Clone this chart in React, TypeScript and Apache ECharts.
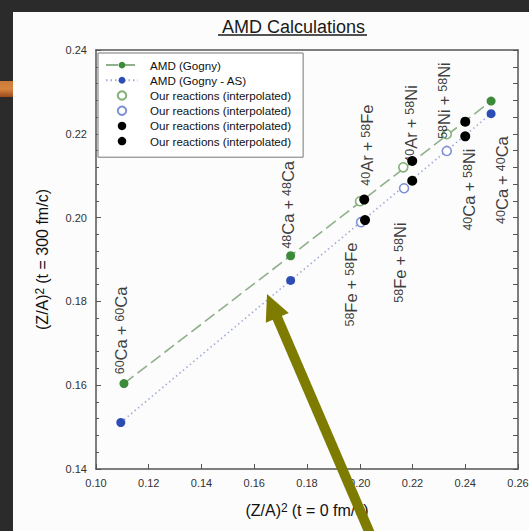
import React, { useEffect, useRef } from "react";
import * as echarts from "echarts";

const FONT = "'Liberation Sans', Arial, Helvetica, sans-serif";

const seriesNames = [
  "AMD (Gogny)",
  "AMD (Gogny - AS)",
  "Our reactions (interpolated)",
  "Our reactions (interpolated) ",
  "Our reactions (interpolated)  ",
  "Our reactions (interpolated)   ",
];

// AMD (Gogny)
const gognyX = [0.1106, 0.1738, 0.2498];
const gognyY = [0.1604, 0.1909, 0.2278];
// AMD (Gogny - AS)
const gognyAsX = [0.1094, 0.1738, 0.2498];
const gognyAsY = [0.1511, 0.185, 0.2248];
// interpolated on Gogny (open green)
const interpGreenX = [0.2001, 0.2165, 0.233];
const interpGreenY = [0.2039, 0.212, 0.2199];
// interpolated on Gogny - AS (open blue)
const interpBlueX = [0.2005, 0.2168, 0.233];
const interpBlueY = [0.1989, 0.207, 0.2159];
// interpolated (black, upper)
const blackUpperX = [0.2017, 0.2199, 0.24];
const blackUpperY = [0.2043, 0.2135, 0.2229];
// interpolated (black, lower)
const blackLowerX = [0.202, 0.2199, 0.24];
const blackLowerY = [0.1994, 0.2088, 0.2194];

// reaction labels
const labelMassA = ["60", "48", "58", "58", "40", "40", "58", "40", "40"];
const labelElemA = ["Ca", "Ca", "Fe", "Fe", "Ar", "Ar", "Ni", "Ca", "Ca"];
const labelMassB = ["60", "48", "58", "58", "58", "58", "58", "58", "40"];
const labelElemB = ["Ca", "Ca", "Fe", "Ni", "Fe", "Ni", "Ni", "Ni", "Ca"];
const labelX = [0.1098, 0.1728, 0.197, 0.2153, 0.2031, 0.2198, 0.2323, 0.2418, 0.254];
const labelY = [0.1626, 0.1926, 0.174, 0.1797, 0.2076, 0.2131, 0.2188, 0.1969, 0.1985];

// axes
const xMin = 0.1;
const xMax = 0.26;
const xStep = 0.02;
const yMin = 0.14;
const yMax = 0.24;
const yStep = 0.02;
const yMinorStep = 0.004;

const zip = (xs: number[], ys: number[]) => xs.map((x, i) => [x, ys[i]]);

function arrowGraphics() {
  const tip = [267, 294];
  const d = [0.395, 0.919];
  const p = [0.919, -0.395];
  const headLen = 26;
  const headHalf = 12.5;
  const shaftHalf = 5;
  const tailLen = 270;
  const base = [tip[0] + d[0] * headLen, tip[1] + d[1] * headLen];
  const tail = [tip[0] + d[0] * tailLen, tip[1] + d[1] * tailLen];
  const color = "#7e7c00";
  return [
    {
      type: "polygon",
      z: 200,
      shape: {
        points: [
          [base[0] + p[0] * shaftHalf - d[0] * 2, base[1] + p[1] * shaftHalf - d[1] * 2],
          [tail[0] + p[0] * shaftHalf, tail[1] + p[1] * shaftHalf],
          [tail[0] - p[0] * shaftHalf, tail[1] - p[1] * shaftHalf],
          [base[0] - p[0] * shaftHalf - d[0] * 2, base[1] - p[1] * shaftHalf - d[1] * 2],
        ],
      },
      style: { fill: color },
    },
    {
      type: "polygon",
      z: 200,
      shape: {
        points: [
          tip,
          [base[0] + p[0] * headHalf, base[1] + p[1] * headHalf],
          [base[0] - p[0] * headHalf, base[1] - p[1] * headHalf],
        ],
      },
      style: { fill: color },
    },
  ];
}

export default function App() {
  const ref = useRef<HTMLDivElement>(null);

  useEffect(() => {
    if (!ref.current) return;
    const chart = echarts.init(ref.current, null, { renderer: "svg" });

    const labelRich = {
      s: { fontSize: 12.5, fontFamily: FONT, color: "#0a0a0a", verticalAlign: "top", lineHeight: 12 },
      m: { fontSize: 16.5, fontFamily: FONT, color: "#0a0a0a", verticalAlign: "bottom", lineHeight: 16 },
      p: { fontSize: 16.5, fontFamily: FONT, color: "#0a0a0a", verticalAlign: "bottom", lineHeight: 16, padding: [0, 4, 0, 4] },
    };

    const axisLineStyle = { color: "#555", width: 1.5 };
    const tickStyle = { color: "#555", width: 1 };
    const fmt = (v: number) => v.toFixed(2);

    const option: any = {
      animation: false,
      backgroundColor: "#2b2b2b",
      title: {
        text: "AMD Calculations",
        left: 217,
        top: 13,
        textStyle: { fontFamily: FONT, fontSize: 18, fontWeight: "normal", color: "#1a1a1a" },
      },
      graphic: [
        {
          type: "rect",
          z: -100,
          shape: { x: 13, y: 12, width: 516, height: 519 },
          style: { fill: "#fcfcfc" },
        },
        {
          type: "rect",
          z: -100,
          shape: { x: 0, y: 81, width: 13, height: 16 },
          style: {
            fill: new echarts.graphic.LinearGradient(0, 0, 0, 1, [
              { offset: 0, color: "#c97a3c" },
              { offset: 0.5, color: "#d8843e" },
              { offset: 1, color: "#9a4a1c" },
            ]),
          },
        },
        {
          type: "line",
          shape: { x1: 218, y1: 35, x2: 367, y2: 35 },
          style: { stroke: "#1a1a1a", lineWidth: 1.3 },
        },
        ...arrowGraphics(),
      ],
      legend: {
        data: seriesNames,
        orient: "vertical",
        left: 98,
        top: 53,
        itemWidth: 32,
        itemHeight: 8.5,
        itemGap: 3,
        padding: [6, 12, 10, 7],
        borderColor: "#777",
        borderWidth: 1,
        backgroundColor: "#fff",
        selectedMode: false,
        formatter: (n: string) => n.trim(),
        textStyle: { fontFamily: FONT, fontSize: 11.6, color: "#111", lineHeight: 12.2, padding: [0, 0, 0, 7] },
      },
      grid: { left: 96, right: 11, top: 50, bottom: 62, containLabel: false, outerBoundsMode: "none" },
      xAxis: [
        {
          type: "value",
          position: "bottom",
          min: xMin,
          max: xMax,
          interval: xStep,
          axisLine: { show: true, onZero: false, lineStyle: axisLineStyle },
          axisTick: { show: true, inside: true, length: 5, lineStyle: tickStyle },
          splitLine: { show: false },
          axisLabel: { formatter: fmt, fontFamily: FONT, fontSize: 11, color: "#333", margin: 8 },
          name: "{b|(Z/A)}{s|2}{c|(t = 0 fm/c)}",
          nameLocation: "middle",
          nameGap: 33,
          nameTextStyle: {
            lineHeight: 22,
            rich: {
              b: { fontSize: 16, fontFamily: FONT, color: "#111", verticalAlign: "bottom", lineHeight: 16 },
              s: { fontSize: 12, fontFamily: FONT, color: "#111", verticalAlign: "top", lineHeight: 12 },
              c: { fontSize: 16, fontFamily: FONT, color: "#111", verticalAlign: "bottom", lineHeight: 16, padding: [0, 0, 0, 4] },
            },
          },
        },
        {
          type: "value",
          position: "top",
          min: xMin,
          max: xMax,
          interval: xStep,
          axisLine: { show: true, onZero: false, lineStyle: axisLineStyle },
          axisTick: { show: false },
          axisLabel: { show: false },
          splitLine: { show: false },
        },
      ],
      yAxis: [
        {
          type: "value",
          position: "left",
          min: yMin,
          max: yMax,
          interval: yStep,
          axisLine: { show: true, onZero: false, lineStyle: axisLineStyle },
          axisTick: { show: true, inside: true, length: 5, lineStyle: tickStyle },
          minorTick: { show: true, splitNumber: 5, length: 3, lineStyle: tickStyle },
          splitLine: { show: false },
          axisLabel: { formatter: fmt, fontFamily: FONT, fontSize: 11, color: "#333", margin: 9 },
          name: "{b|(Z/A)}{s|2}{c|(t = 300 fm/c)}",
          nameLocation: "middle",
          nameGap: 46,
          nameTextStyle: {
            lineHeight: 22,
            rich: {
              b: { fontSize: 16, fontFamily: FONT, color: "#111", verticalAlign: "bottom", lineHeight: 16 },
              s: { fontSize: 12, fontFamily: FONT, color: "#111", verticalAlign: "top", lineHeight: 12 },
              c: { fontSize: 16, fontFamily: FONT, color: "#111", verticalAlign: "bottom", lineHeight: 16, padding: [0, 0, 0, 4] },
            },
          },
        },
        {
          type: "value",
          position: "right",
          min: yMin,
          max: yMax,
          interval: yMinorStep,
          axisLine: { show: true, onZero: false, lineStyle: axisLineStyle },
          axisTick: { show: true, inside: true, length: 5, lineStyle: tickStyle },
          axisLabel: { show: false },
          splitLine: { show: false },
        },
      ],
      series: [
        {
          name: seriesNames[0],
          type: "line",
          z: 2,
          data: zip(gognyX, gognyY),
          symbol: "circle",
          symbolSize: 9,
          showSymbol: true,
          itemStyle: { color: "#3e8a3b", opacity: 1 },
          lineStyle: { color: "#8fb08b", width: 1.6, type: [12, 5] },
        },
        {
          name: seriesNames[1],
          type: "line",
          z: 2,
          data: zip(gognyAsX, gognyAsY),
          symbol: "circle",
          symbolSize: 9,
          showSymbol: true,
          itemStyle: { color: "#2c4db3", opacity: 1 },
          lineStyle: { color: "#a2abd6", width: 1.6, type: [1.5, 3] },
        },
        {
          name: seriesNames[2],
          type: "scatter",
          z: 3,
          data: zip(interpGreenX, interpGreenY),
          symbol: "circle",
          symbolSize: 9,
          itemStyle: { color: "#ffffff", borderColor: "#82b176", borderWidth: 1.6, opacity: 1 },
        },
        {
          name: seriesNames[3],
          type: "scatter",
          z: 3,
          data: zip(interpBlueX, interpBlueY),
          symbol: "circle",
          symbolSize: 9,
          itemStyle: { color: "#ffffff", borderColor: "#7f91d6", borderWidth: 1.6, opacity: 1 },
        },
        {
          name: seriesNames[4],
          type: "scatter",
          z: 5,
          data: zip(blackUpperX, blackUpperY),
          symbol: "circle",
          symbolSize: 10,
          itemStyle: { color: "#000000", borderWidth: 0, opacity: 1 },
        },
        {
          name: seriesNames[5],
          type: "scatter",
          z: 5,
          data: zip(blackLowerX, blackLowerY),
          symbol: "circle",
          symbolSize: 10,
          itemStyle: { color: "#000000", borderWidth: 0, opacity: 1 },
        },
        {
          name: "reaction labels",
          type: "scatter",
          z: 6,
          silent: true,
          symbolSize: 1,
          itemStyle: { color: "rgba(0,0,0,0)" },
          data: labelX.map((x, i) => ({
            value: [x, labelY[i]],
            label: {
              formatter: `{s|${labelMassA[i]}}{m|${labelElemA[i]}}{p|+}{s|${labelMassB[i]}}{m|${labelElemB[i]}}`,
            },
          })),
          label: {
            show: true,
            position: "inside",
            rotate: 90,
            align: "left",
            verticalAlign: "middle",
            lineHeight: 26,
            rich: labelRich,
          },
        },
      ],
    };

    chart.setOption(option);
    return () => chart.dispose();
  }, []);

  return (
    <div style={{ position: "fixed", left: 0, top: 0, width: 529, height: 531 }}>
      <div ref={ref} style={{ width: 529, height: 531 }} />
    </div>
  );
}
